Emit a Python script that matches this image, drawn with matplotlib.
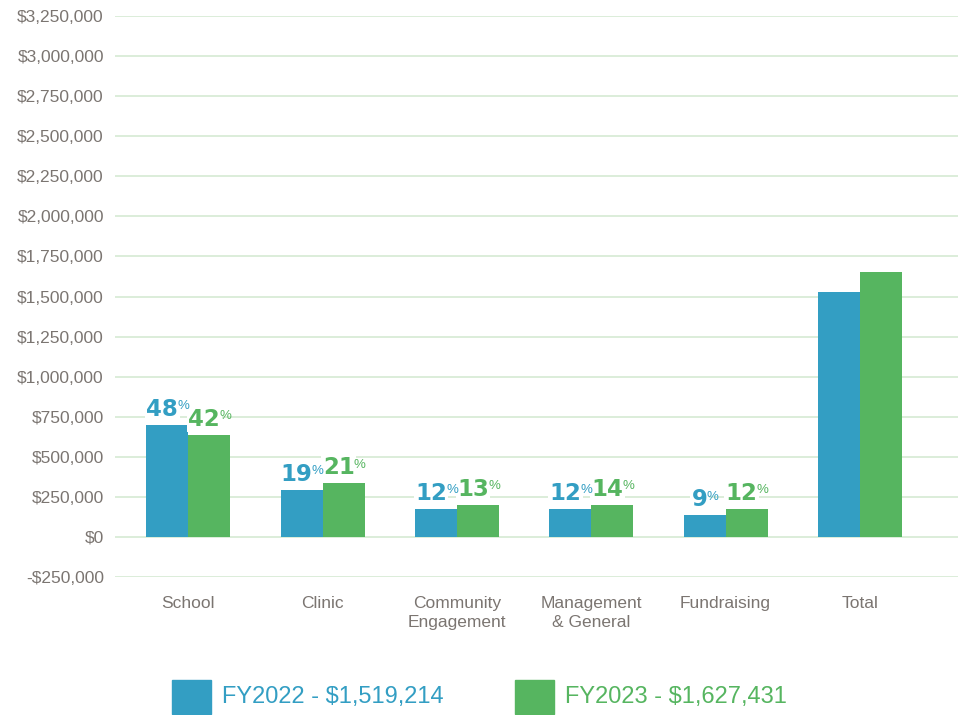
import matplotlib
matplotlib.use("Agg")
import matplotlib.pyplot as plt
import numpy as np
from matplotlib.patches import Rectangle
from matplotlib.ticker import FuncFormatter, MultipleLocator

categories = ["School", "Clinic", "Community\nEngagement", "Management\n& General", "Fundraising", "Total"]
fy2022 = [700000, 294000, 175000, 175000, 137000, 1527000]
fy2023 = [637000, 337000, 200000, 200000, 175000, 1650000]
pct2022 = ["48", "19", "12", "12", "9", None]
pct2023 = ["42", "21", "13", "14", "12", None]
legend_labels = ["FY2022 - $1,519,214", "FY2023 - $1,627,431"]

blue = "#339ec3"
green = "#56b560"
grey = "#7b7571"
grid_col = "#d6ead3"
narrow = ["Liberation Sans", "DejaVu Sans"]

fig = plt.figure(figsize=(9.58, 7.15), dpi=100)
ax = fig.add_axes([115 / 958, 1 - 577 / 715, 1 - 115 / 958, (577 - 16) / 715])

x = np.arange(len(categories))
w = 0.3125
ax.bar(x - w / 2, fy2022, w, color=blue, zorder=2)
ax.bar(x + w / 2, fy2023, w, color=green, zorder=2)

ax.set_ylim(-250000, 3250000)
ax.set_xlim(-0.545, 5.73)
ax.yaxis.set_major_locator(MultipleLocator(250000))
ax.yaxis.set_major_formatter(FuncFormatter(lambda v, p: ("-$" if v < 0 else "$") + f"{abs(int(v)):,}"))
ax.grid(axis="y", color=grid_col, lw=1.2, zorder=0)
ax.set_axisbelow(True)
for s in ax.spines.values():
    s.set_visible(False)
ax.tick_params(axis="both", length=0, colors=grey, labelsize=12.5)
ax.tick_params(axis="y", pad=8)
ax.tick_params(axis="x", pad=14)
ax.set_xticks(x)
ax.set_xticklabels(categories, linespacing=1.3)
for lab in ax.get_xticklabels() + ax.get_yticklabels():
    lab.set_family(narrow)
    lab.set_color(grey)

fig.canvas.draw()
renderer = fig.canvas.get_renderer()


def pct_label(xc, top, txt, col):
    if txt is None:
        return
    t = ax.annotate(txt, (xc, top), xytext=(-3.5, 3), textcoords="offset points",
                    ha="center", va="bottom", fontsize=16.5, fontweight="bold",
                    color=col, zorder=4,
                    bbox=dict(facecolor="white", edgecolor="none", pad=1.0))
    fig.canvas.draw()
    bb = t.get_window_extent(renderer)
    inv = ax.transData.inverted()
    xr, yt = inv.transform((bb.x1, bb.y1))
    ax.annotate("%", (xr, yt), xytext=(-0.5, -2), textcoords="offset points",
                ha="left", va="top", fontsize=9.5, color=col, zorder=5,
                family=narrow)


for i in range(len(categories)):
    pct_label(x[i] - w / 2, fy2022[i], pct2022[i], blue)
    pct_label(x[i] + w / 2, fy2023[i], pct2023[i], green)

# legend
for (lx, col, lab) in [(172, blue, legend_labels[0]), (515, green, legend_labels[1])]:
    fig.patches.append(Rectangle((lx / 958, 1 - 714 / 715), 39 / 958, 34 / 715,
                                 transform=fig.transFigure, color=col))
    fig.text((lx + 50) / 958, 1 - 697 / 715, lab, color=col, fontsize=17,
             va="center", ha="left", family=narrow)

fig.savefig("out.png", dpi=100)
